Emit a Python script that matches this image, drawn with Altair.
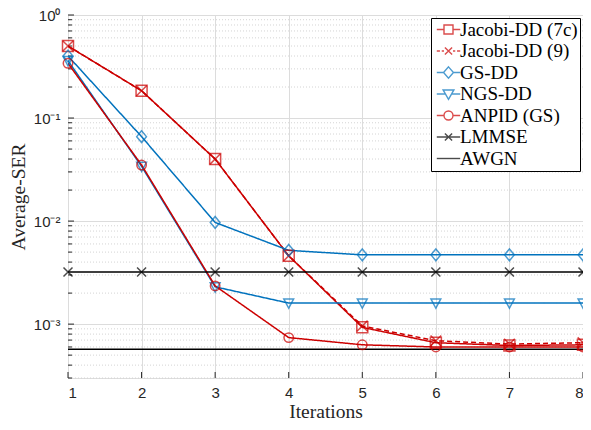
import altair as alt
import pandas as pd

# ---------------- data ----------------
iters = [1, 2, 3, 4, 5, 6, 7, 8]
series_names = ["Jacobi-DD (7c)", "Jacobi-DD (9)", "GS-DD", "NGS-DD", "ANPID (GS)", "LMMSE", "AWGN"]
jacobi_7c = [0.50, 0.184, 0.040, 0.0046, 0.00093, 0.00066, 0.00062, 0.00063]
jacobi_9 = [0.50, 0.184, 0.040, 0.0046, 0.00096, 0.00069, 0.00064, 0.00066]
gs_dd = [0.40, 0.066, 0.0097, 0.0052, 0.0047, 0.0047, 0.0047, 0.0047]
ngs_dd = [0.36, 0.034, 0.0023, 0.0016, 0.0016, 0.0016, 0.0016, 0.0016]
anpid = [0.34, 0.035, 0.00235, 0.00074, 0.00063, 0.00060, 0.00060, 0.00060]
lmmse = [0.0032, 0.0032, 0.0032, 0.0032, 0.0032, 0.0032, 0.0032, 0.0032]
awgn = [0.00057, 0.00057, 0.00057, 0.00057, 0.00057, 0.00057, 0.00057, 0.00057]

y_major = [0.001, 0.01, 0.1, 1.0]
y_minor = [0.0003, 0.0004, 0.0005, 0.0006, 0.0007, 0.0008, 0.0009,
           0.002, 0.003, 0.004, 0.005, 0.006, 0.007, 0.008, 0.009,
           0.02, 0.03, 0.04, 0.05, 0.06, 0.07, 0.08, 0.09,
           0.2, 0.3, 0.4, 0.5, 0.6, 0.7, 0.8, 0.9]

# ---------------- styles ----------------
RED = "#cc0000"
BLUE = "#0072bd"
BLACK = "#000000"
colors = [RED, RED, BLUE, BLUE, RED, BLACK, BLACK]
dashes = [[1, 0], [5, 3], [1, 0], [1, 0], [1, 0], [1, 0], [1, 0]]
widths = [1.5, 1.5, 1.5, 1.5, 1.5, 1.5, 2.2]

XPATH = "M-1,-1L1,1M-1,1L1,-1"
marker_series = ["Jacobi-DD (7c)", "Jacobi-DD (9)", "GS-DD", "NGS-DD", "ANPID (GS)", "LMMSE"]
marker_shapes = ["M-1,-1L1,-1L1,1L-1,1Z", XPATH, "M0,-1.15L0.95,0L0,1.15L-0.95,0Z",
                 "M-1,-0.85L1,-0.85L0,1.05Z", "circle", XPATH]
marker_sizes = [121, 81, 174, 215, 165, 81]

legend_shapes = [
    "M-2.6,0L-1,0M-1,-1L1,-1L1,1L-1,1ZM1,0L2.6,0",
    "M-2.6,0L-1.9,0M-1.5,0L-1,0M-0.8,-0.8L0.8,0.8M-0.8,0.8L0.8,-0.8M1,0L1.5,0M1.9,0L2.6,0",
    "M-2.6,0L-1.1,0M0,-1.25L1.1,0L0,1.25L-1.1,0ZM1.1,0L2.6,0",
    "M-2.6,0L-0.69,0M-1.2,-0.9L1.2,-0.9L0,1.2ZM0.69,0L2.6,0",
    "M-2.6,0L-1,0M1,0A1,1,0,1,1,-1,0A1,1,0,1,1,1,0ZM1,0L2.6,0",
    "M-2.6,0L2.6,0M-0.8,-0.8L0.8,0.8M-0.8,0.8L0.8,-0.8",
    "M-2.6,0L2.6,0",
]

rows = []
for name, vals in zip(series_names, [jacobi_7c, jacobi_9, gs_dd, ngs_dd, anpid, lmmse, awgn]):
    for i, v in zip(iters, vals):
        rows.append({"iter": i, "value": v, "series": name})
df = pd.DataFrame(rows)

W, H = 515, 363
FONT_SANS = "Liberation Sans"
FONT_SERIF = "Liberation Serif"

label_expr = ("datum.value >= 0.5 ? '10⁰' : datum.value >= 0.05 ? '10⁻¹' : "
              "datum.value >= 0.005 ? '10⁻²' : '10⁻³'")

x_scale = alt.Scale(domain=[1, 8], nice=False, zero=False)
y_scale = alt.Scale(type="log", domain=[0.0003, 1.0], nice=False)

x_axis = alt.Axis(values=iters, format="d", title="Iterations", grid=True,
                  gridColor="#dcdcdc", gridWidth=1, domain=False, ticks=False,
                  labelFont=FONT_SANS, labelFontSize=15, labelColor="#262626",
                  labelPadding=7, titleFont=FONT_SERIF, titleFontSize=19.5,
                  titleFontWeight="normal", titleColor="#262626", titlePadding=2)
y_axis = alt.Axis(values=y_major, labelExpr=label_expr, title="Average-SER", grid=True,
                  gridColor="#dcdcdc", gridWidth=1, domain=False, ticks=False,
                  labelFont=FONT_SANS, labelFontSize=15, labelColor="#262626",
                  labelPadding=8, titleFont=FONT_SERIF, titleFontSize=19.5,
                  titleFontWeight="normal", titleColor="#262626", titlePadding=5)

# minor dotted grid
minor_df = pd.DataFrame({"v": y_minor})
minor_grid = alt.Chart(minor_df).mark_rule(color="#d4d4d4", strokeDash=[1, 2], strokeWidth=1).encode(
    y=alt.Y("v:Q", scale=y_scale, axis=y_axis)
)
minor_ticks = alt.Chart(minor_df).mark_rule(color="#262626", strokeWidth=1).encode(
    y=alt.Y("v:Q", scale=y_scale), x=alt.value(0), x2=alt.value(4)
)
major_ticks = alt.Chart(pd.DataFrame({"v": y_major})).mark_rule(color="#262626", strokeWidth=1).encode(
    y=alt.Y("v:Q", scale=y_scale), x=alt.value(0), x2=alt.value(6)
)
x_ticks = alt.Chart(pd.DataFrame({"i": iters})).mark_rule(color="#262626", strokeWidth=1).encode(
    x=alt.X("i:Q", scale=x_scale, axis=x_axis), y=alt.value(H), y2=alt.value(H - 6)
)

lines = alt.Chart(df).mark_line(clip=True).encode(
    x=alt.X("iter:Q", scale=x_scale),
    y=alt.Y("value:Q", scale=y_scale),
    color=alt.Color("series:N", scale=alt.Scale(domain=series_names, range=colors), legend=None),
    strokeDash=alt.StrokeDash("series:N", scale=alt.Scale(domain=series_names, range=dashes), legend=None),
    strokeWidth=alt.StrokeWidth("series:N", scale=alt.Scale(domain=series_names, range=widths), legend=None),
    order=alt.Order("iter:Q"),
)

pts_df = df[df["series"].isin(marker_series)]
points = alt.Chart(pts_df).mark_point(filled=False, strokeWidth=1.5, clip=False).encode(
    x=alt.X("iter:Q", scale=x_scale),
    y=alt.Y("value:Q", scale=y_scale),
    color=alt.Color("series:N", scale=alt.Scale(domain=marker_series, range=colors[:6]), legend=None),
    shape=alt.Shape("series:N", scale=alt.Scale(domain=marker_series, range=marker_shapes), legend=None),
    size=alt.Size("series:N", scale=alt.Scale(domain=marker_series, range=marker_sizes), legend=None),
)

# legend carrier (points lie outside the y domain and are clipped)
leg_df = pd.DataFrame({"series": series_names, "iter": [1] * 7, "value": [1e-9] * 7})
legend_layer = alt.Chart(leg_df).mark_point(filled=False, strokeWidth=1.4, clip=True).encode(
    x=alt.X("iter:Q", scale=x_scale),
    y=alt.Y("value:Q", scale=y_scale),
    color=alt.Color("series:N", scale=alt.Scale(domain=series_names, range=colors),
                    legend=alt.Legend(title=None, orient="top-right", offset=3,
                                      symbolSize=81, symbolOffset=6, labelOffset=2,
                                      labelFont=FONT_SERIF, labelFontSize=19, labelColor="#000000",
                                      rowPadding=1.5, padding=2, strokeColor="#000000",
                                      fillColor="#ffffff", symbolStrokeWidth=1.4, labelLimit=300)),
    shape=alt.Shape("series:N", scale=alt.Scale(domain=series_names, range=legend_shapes),
                    legend=alt.Legend(title=None)),
)

chart = alt.layer(minor_grid, x_ticks, minor_ticks, major_ticks, lines, points, legend_layer).resolve_scale(
    color="independent", shape="independent"
).properties(
    width=W, height=H,
    autosize=alt.AutoSizeParams(type="none"),
    padding={"left": 60, "top": 7, "right": 0, "bottom": 44},
).configure_view(stroke="#262626", strokeWidth=1).configure(background="#ffffff")

chart.save("out.html", embed_options={"renderer": "svg", "actions": False})
